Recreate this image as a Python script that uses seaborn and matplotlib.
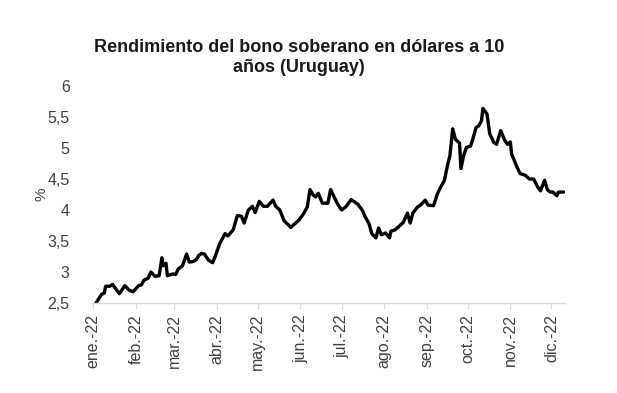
"""
Rendimiento del bono soberano uruguayo en dólares a 10 años, 2022.
"""

import pandas as pd
import seaborn as sns
from matplotlib import pyplot as plt

# Dates and yields (%)
DATES = [
    "2022-01-03", "2022-01-05", "2022-01-07", "2022-01-09", "2022-01-10",
    "2022-01-13", "2022-01-15", "2022-01-17", "2022-01-20", "2022-01-24",
    "2022-01-27", "2022-01-30", "2022-02-03", "2022-02-05", "2022-02-07",
    "2022-02-10", "2022-02-12", "2022-02-15", "2022-02-18", "2022-02-20",
    "2022-02-21", "2022-02-23", "2022-02-24", "2022-02-28", "2022-03-02",
    "2022-03-04", "2022-03-07", "2022-03-10", "2022-03-12", "2022-03-15",
    "2022-03-17", "2022-03-19", "2022-03-21", "2022-03-23", "2022-03-26",
    "2022-03-29", "2022-03-31", "2022-04-03", "2022-04-07", "2022-04-09",
    "2022-04-13", "2022-04-16", "2022-04-19", "2022-04-21", "2022-04-24",
    "2022-04-27", "2022-04-29", "2022-05-02", "2022-05-05", "2022-05-08",
    "2022-05-09", "2022-05-12", "2022-05-14", "2022-05-17", "2022-05-20",
    "2022-05-25", "2022-05-28", "2022-05-31", "2022-06-03", "2022-06-06",
    "2022-06-08", "2022-06-10", "2022-06-12", "2022-06-14", "2022-06-17",
    "2022-06-21", "2022-06-23", "2022-06-26", "2022-06-28", "2022-07-01",
    "2022-07-04", "2022-07-08", "2022-07-13", "2022-07-16", "2022-07-18",
    "2022-07-21", "2022-07-23", "2022-07-26", "2022-07-28", "2022-07-30",
    "2022-08-02", "2022-08-05", "2022-08-06", "2022-08-09", "2022-08-12",
    "2022-08-15", "2022-08-18", "2022-08-20", "2022-08-22", "2022-08-25",
    "2022-08-28", "2022-08-31", "2022-09-02", "2022-09-06", "2022-09-09",
    "2022-09-11", "2022-09-14", "2022-09-16", "2022-09-18", "2022-09-20",
    "2022-09-22", "2022-09-25", "2022-09-26", "2022-09-28", "2022-09-30",
    "2022-10-03", "2022-10-05", "2022-10-07", "2022-10-09", "2022-10-11",
    "2022-10-12", "2022-10-15", "2022-10-17", "2022-10-20", "2022-10-22",
    "2022-10-25", "2022-10-28", "2022-10-30", "2022-11-01", "2022-11-02",
    "2022-11-05", "2022-11-08", "2022-11-12", "2022-11-15", "2022-11-18",
    "2022-11-21", "2022-11-23", "2022-11-26", "2022-11-28", "2022-11-30",
    "2022-12-02", "2022-12-05", "2022-12-06", "2022-12-10",
]
YIELDS = [
    2.50, 2.57, 2.64, 2.66, 2.77,
    2.77, 2.80, 2.74, 2.65, 2.78,
    2.71, 2.68, 2.78, 2.79, 2.87,
    2.90, 3.00, 2.93, 2.94, 3.23,
    3.10, 3.14, 2.94, 2.97, 2.96,
    3.05, 3.10, 3.29, 3.16, 3.17,
    3.20, 3.27, 3.30, 3.29, 3.19,
    3.15, 3.26, 3.45, 3.62, 3.58,
    3.68, 3.91, 3.90, 3.79, 4.00,
    4.06, 3.96, 4.14, 4.06, 4.06,
    4.09, 4.16, 4.06, 4.00, 3.83,
    3.72, 3.78, 3.84, 3.93, 4.05,
    4.33, 4.25, 4.21, 4.27, 4.11,
    4.11, 4.33, 4.19, 4.10, 4.00,
    4.05, 4.17, 4.09, 4.00, 3.90,
    3.78, 3.62, 3.55, 3.71, 3.60,
    3.63, 3.55, 3.66, 3.68, 3.74,
    3.80, 3.95, 3.79, 3.95, 4.04,
    4.09, 4.16, 4.08, 4.07, 4.27,
    4.36, 4.48, 4.70, 4.88, 5.31,
    5.14, 5.08, 4.67, 4.88, 5.01,
    5.03, 5.17, 5.33, 5.36, 5.44,
    5.64, 5.55, 5.23, 5.09, 5.06,
    5.28, 5.12, 5.06, 5.10, 4.90,
    4.74, 4.59, 4.56, 4.50, 4.50,
    4.37, 4.31, 4.48, 4.33, 4.29,
    4.29, 4.23, 4.29, 4.29,
]

MONTH_STARTS = pd.date_range("2022-01-01", "2022-12-01", freq="MS")
MONTH_LABELS = [
    "ene.-22", "feb.-22", "mar.-22", "abr.-22", "may.-22", "jun.-22",
    "jul.-22", "ago.-22", "sep.-22", "oct.-22", "nov.-22", "dic.-22",
]
Y_TICKS = [2.5, 3, 3.5, 4, 4.5, 5, 5.5, 6]
Y_LABELS = ["2,5", "3", "3,5", "4", "4,5", "5", "5,5", "6"]

TEXT_COLOR = "#404040"

sns.set_theme(style="white")
plt.rcParams["font.family"] = ["Liberation Sans", "DejaVu Sans"]

df = pd.DataFrame({"fecha": pd.to_datetime(DATES), "rendimiento": YIELDS})

fig = plt.figure(figsize=(6.17, 3.93), dpi=100)
ax = fig.add_axes([0.149, 0.229, 0.767, 0.552])

sns.lineplot(data=df, x="fecha", y="rendimiento", color="black", linewidth=2.4, ax=ax)

ax.set_xlim(pd.Timestamp("2021-12-31"), pd.Timestamp("2022-12-11"))
ax.set_ylim(2.5, 6)

ax.set_xticks(MONTH_STARTS)
ax.set_xticklabels(MONTH_LABELS, rotation=90, fontsize=11.5, color=TEXT_COLOR)
ax.set_yticks(Y_TICKS)
ax.set_yticklabels(Y_LABELS, fontsize=11.5, color=TEXT_COLOR)

ax.tick_params(axis="x", bottom=True, length=4, width=0.8, color="#d9d9d9", pad=4)
ax.tick_params(axis="y", left=False, pad=10)

for side in ("left", "right", "top"):
    ax.spines[side].set_visible(False)
ax.spines["bottom"].set_color("#d9d9d9")
ax.spines["bottom"].set_linewidth(1)

ax.set_xlabel("")
ax.set_ylabel("%", fontsize=11, color=TEXT_COLOR, va="center")
ax.yaxis.set_label_coords(-0.106, 0.5)

fig.text(
    0.485, 0.853,
    "Rendimiento del bono soberano en dólares a 10\naños (Uruguay)",
    ha="center", va="center", fontsize=13, fontweight="bold",
    color="#1a1a1a", linespacing=1.2,
)

fig.savefig("out.png", dpi=100)
